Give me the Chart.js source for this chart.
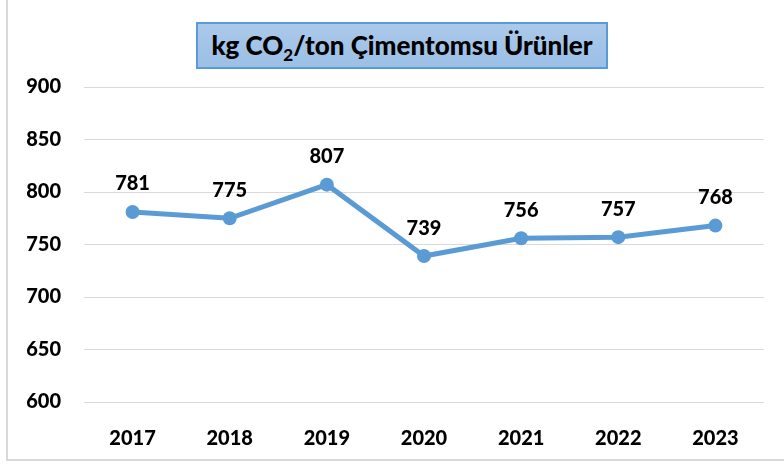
<!DOCTYPE html>
<html>
<head>
<meta charset="utf-8">
<script src="https://cdn.jsdelivr.net/npm/chart.js@4.4.0/dist/chart.umd.min.js"></script>
<style>
  html, body { margin: 0; padding: 0; background: #fff; }
  #wrap { position: relative; width: 784px; height: 465px; overflow: hidden; }
  #frame {
    position: absolute; left: 6px; top: -2px; width: 790px; height: 463px;
    border-left: 2px solid #d9d9d9; border-bottom: 2px solid #d9d9d9;
    box-sizing: border-box;
  }
  #title {
    position: absolute; left: 196px; top: 22px; width: 412px; height: 47px;
    box-sizing: border-box;
    border: 2px solid #5b9bd5;
    background: linear-gradient(#abc9ea, #9bbfe6);
    font-family: Lato, "Noto Sans", sans-serif; font-weight: 900;
    font-size: 26px; color: #000; text-align: center; line-height: 42px;
    white-space: nowrap;
  }
  #title sub { font-size: 17px; line-height: 0; vertical-align: -6px; }
  canvas { position: absolute; left: 0; top: 0; }
</style>
</head>
<body>
<div id="wrap">
  <div id="frame"></div>
  <canvas id="chart" width="784" height="465"></canvas>
  <div id="title">kg CO<sub>2</sub>/ton Çimentomsu Ürünler</div>
</div>
<script>
const years = ['2017', '2018', '2019', '2020', '2021', '2022', '2023'];
const emissions = [781, 775, 807, 739, 756, 757, 768];
const yTicks = [600, 650, 700, 750, 800, 850, 900];

const FONT = 'Lato, "Noto Sans", sans-serif';

// draw value labels above each point
const valueLabels = {
    id: 'valueLabels',
    afterDatasetsDraw(chart) {
        const ctx = chart.ctx;
        const meta = chart.getDatasetMeta(0);
        ctx.save();
        ctx.font = '900 20px ' + FONT;
        ctx.fillStyle = '#000';
        ctx.textAlign = 'center';
        ctx.textBaseline = 'middle';
        meta.data.forEach((pt, i) => {
            ctx.fillText(String(emissions[i]), pt.x, pt.y - 28);
        });
        ctx.restore();
    }
};

new Chart(document.getElementById('chart'), {
    type: 'line',
    data: {
        labels: years,
        datasets: [{
            data: emissions,
            borderColor: '#5b9bd5',
            backgroundColor: '#5b9bd5',
            borderWidth: 5,
            pointRadius: 7,
            pointBorderWidth: 0,
            tension: 0
        }]
    },
    options: {
        responsive: false,
        animation: false,
        layout: { padding: { left: 0, right: 20, top: 87, bottom: 0 } },
        plugins: {
            legend: { display: false },
            tooltip: { enabled: false }
        },
        scales: {
            x: {
                offset: true,
                grid: { display: false },
                border: { display: false },
                afterFit: (axis) => { axis.height = 63; },
                ticks: { color: '#000', font: { family: FONT, size: 20, weight: '900' }, padding: 17 }
            },
            y: {
                min: 600,
                max: 900,
                afterBuildTicks: (axis) => { axis.ticks = yTicks.map(v => ({ value: v })); },
                afterFit: (axis) => { axis.width = 84; },
                grid: { color: '#d9d9d9', lineWidth: 1, drawTicks: false },
                border: { display: false },
                ticks: { color: '#000', font: { family: FONT, size: 20, weight: '900' }, padding: 23 }
            }
        }
    },
    plugins: [valueLabels]
});
</script>
</body>
</html>
